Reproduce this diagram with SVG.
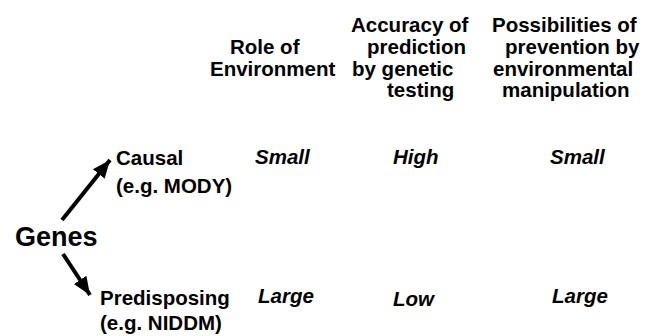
<svg xmlns="http://www.w3.org/2000/svg" width="650" height="336" viewBox="0 0 650 336">
<style>
text{font-family:"Liberation Sans",Arial,sans-serif;font-weight:bold;fill:#000;font-size:20.5px}
.i{font-style:italic}
.g{font-size:27px}
.c{stroke:#000;stroke-width:4;fill:none}
</style>
<defs>
<marker id="ah" markerUnits="userSpaceOnUse" markerWidth="20" markerHeight="20" viewBox="0 0 20 20" refX="18" refY="10" orient="auto">
<path d="M0,2.5 L18,10 L0,17.5 Z" fill="#000"/>
</marker>
</defs>
<rect width="650" height="336" fill="#fff"/>
<g id="header-role">
<text x="230" y="54">Role of</text>
<text x="210" y="76">Environment</text>
</g>
<g id="header-accuracy">
<text x="351" y="32">Accuracy of</text>
<text x="367" y="54">prediction</text>
<text x="352" y="76">by genetic</text>
<text x="387" y="97">testing</text>
</g>
<g id="header-prevention">
<text x="492" y="32">Possibilities of</text>
<text x="505" y="54">prevention by</text>
<text x="493" y="76">environmental</text>
<text x="502" y="97">manipulation</text>
</g>
<g id="genes"><text class="g" x="15" y="246">Genes</text></g>
<g id="causal">
<text x="116" y="165">Causal</text>
<text x="116" y="193">(e.g. MODY)</text>
</g>
<g id="predisposing">
<text x="100" y="305">Predisposing</text>
<text x="100" y="330">(e.g. NIDDM)</text>
</g>
<g id="causal-values">
<text class="i" x="255" y="164">Small</text>
<text class="i" x="393" y="164">High</text>
<text class="i" x="550" y="164">Small</text>
</g>
<g id="predisposing-values">
<text class="i" x="258" y="303">Large</text>
<text class="i" x="393" y="306">Low</text>
<text class="i" x="552" y="303">Large</text>
</g>
<g id="connectors">
<line class="c" x1="62" y1="220" x2="110" y2="160" marker-end="url(#ah)"/>
<line class="c" x1="63" y1="254" x2="90" y2="295" marker-end="url(#ah)"/>
</g>
</svg>
